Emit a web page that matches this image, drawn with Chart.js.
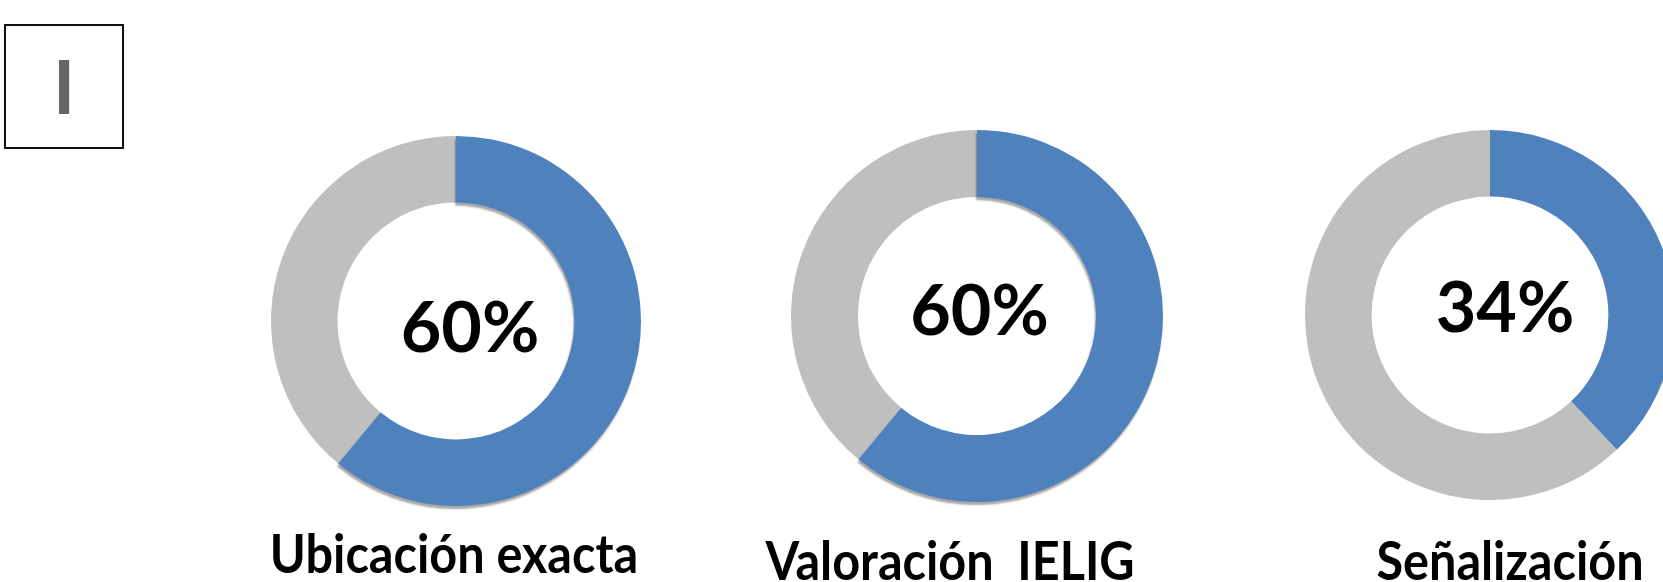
<!DOCTYPE html>
<html>
<head>
<meta charset="utf-8">
<script src="https://cdn.jsdelivr.net/npm/chart.js@4.4.1/dist/chart.umd.min.js"></script>
<style>
  html, body { margin: 0; padding: 0; background: #fff; }
  body { width: 1663px; height: 582px; position: relative; overflow: hidden; font-family: Lato, "Open Sans", sans-serif; }
  .box { position: absolute; left: 4px; top: 24px; width: 120px; height: 125px; box-sizing: border-box; border: 2px solid #111; }
  .roman { position: absolute; left: 0; width: 100%; top: 22px; text-align: center; font-weight: 700; font-size: 75px; line-height: 75px; color: #666; }
  .chart { position: absolute; }
  .label { position: absolute; width: 500px; text-align: center; font-weight: 700; font-size: 54px; line-height: 54px; color: #000; white-space: pre; transform: scaleX(0.9); transform-origin: 50% 50%; }
</style>
</head>
<body>
<div class="box"><div class="roman">I</div></div>

<script>
// data
const categories = ['Ubicación exacta', 'Valoración  IELIG', 'Señalización'];
const sliceNames = ['Cumple', 'No cumple'];
const blueValues = [61, 61, 38];
const grayValues = [39, 39, 62];
const centerLabels = ['60%', '60%', '34%'];

const colors = ['#4F81BD', '#BFBFBF'];

// where each doughnut sits on the page
const layout = [
    { cx: 456, cy: 320.5, r: 185, tx: 14, ty: 31, lx: 454, ly: 574, shadow: true },
    { cx: 976.5, cy: 315.5, r: 186, tx: 2.5, ty: 18.5, lx: 950, ly: 581, shadow: true },
    { cx: 1490, cy: 315, r: 185, tx: 15, ty: 16.7, lx: 1510, ly: 581, shadow: false }
];

const SIZE = 380;

// grey slice first, then the blue one with its soft shadow
const arcShadow = {
    id: 'arcShadow',
    beforeDatasetDraw(chart, args, opts) {
        if (!opts.on) return;
        const ctx = chart.ctx;
        const arcs = args.meta.data;
        arcs[1].draw(ctx);
        ctx.save();
        ctx.shadowColor = 'rgba(0,0,0,0.35)';
        ctx.shadowBlur = 2;
        ctx.shadowOffsetX = -1;
        ctx.shadowOffsetY = 3;
        arcs[0].draw(ctx);
        ctx.restore();
        return false;
    }
};

const centerText = {
    id: 'centerText',
    afterDraw(chart, args, opts) {
        const arc = chart.getDatasetMeta(0).data[0];
        const ctx = chart.ctx;
        ctx.save();
        ctx.font = 'bold 70px Lato, "Open Sans", sans-serif';
        ctx.fillStyle = '#000';
        ctx.textAlign = 'center';
        ctx.textBaseline = 'alphabetic';
        ctx.fillText(opts.text, arc.x + opts.dx, arc.y + opts.dy);
        ctx.restore();
    }
};

categories.forEach((name, i) => {
    const pos = layout[i];

    const canvas = document.createElement('canvas');
    canvas.className = 'chart';
    canvas.width = SIZE;
    canvas.height = SIZE;
    canvas.style.left = (pos.cx - SIZE / 2) + 'px';
    canvas.style.top = (pos.cy - SIZE / 2) + 'px';
    document.body.appendChild(canvas);

    new Chart(canvas.getContext('2d'), {
        type: 'doughnut',
        data: {
            labels: sliceNames,
            datasets: [{
                data: [blueValues[i], grayValues[i]],
                backgroundColor: colors,
                borderWidth: 0,
                hoverOffset: 0
            }]
        },
        options: {
            responsive: false,
            animation: false,
            events: [],
            cutout: '64%',
            radius: pos.r,
            plugins: {
                legend: { display: false },
                tooltip: { enabled: false },
                arcShadow: { on: pos.shadow },
                centerText: { text: centerLabels[i], dx: pos.tx, dy: pos.ty }
            }
        },
        plugins: [arcShadow, centerText]
    });

    // category name under the ring; Lato baseline sits ~0.887em below the line top
    const label = document.createElement('div');
    label.className = 'label';
    label.textContent = name;
    label.style.left = (pos.lx - 250) + 'px';
    label.style.top = (pos.ly - 48) + 'px';
    document.body.appendChild(label);
});
</script>
</body>
</html>
